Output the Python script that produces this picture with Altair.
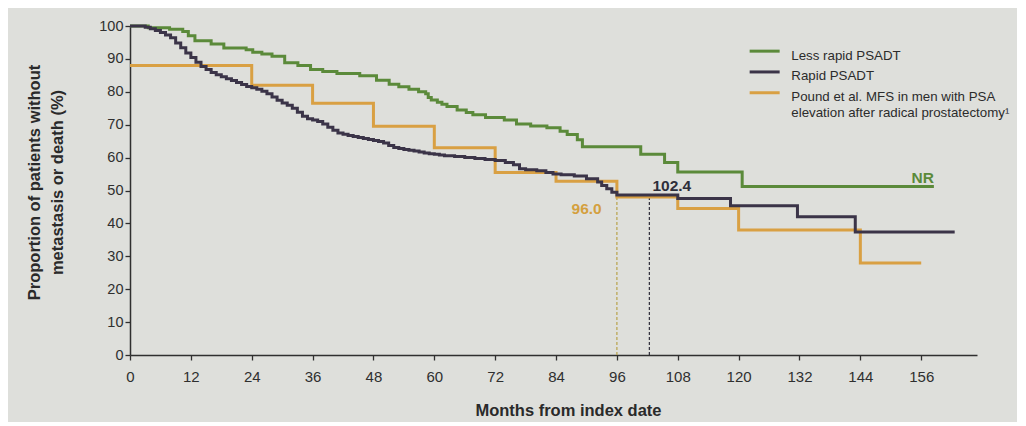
import altair as alt
import pandas as pd

# ---- data ----
series_names = ["Less rapid PSADT", "Rapid PSADT", "Pound"]
series_colors = ["#5b8a3a", "#3b3448", "#d9a043"]

green_t = [0, 3.6, 7.8, 10.4, 11.5, 12.8, 16, 18.5, 22.9, 24.2, 26, 28, 30.5, 33.1, 35.6,
           38, 40.8, 45.3, 48.6, 51.1, 53, 55, 56.9, 58.3, 58.8, 59.4, 60.6, 61.5, 62.5,
           64.5, 66.3, 67.6, 70.1, 73.8, 76.2, 79, 82.2, 84.8, 86.2, 88.2, 89.2, 100.7,
           105.4, 108, 120.7, 158.5]
green_s = [100, 99.5, 99, 98.3, 97, 95.5, 94.5, 93.3, 92.8, 92, 91.5, 90.8, 88.8, 88, 86.8,
           86.2, 85.6, 84.9, 83.5, 82.3, 81.5, 80.8, 80, 79.4, 78.3, 77.5, 76.8, 76.2, 75.5,
           74.5, 73.7, 73, 72.2, 71.4, 70.2, 69.6, 69.1, 68, 67, 65.4, 63.3, 61, 58.5,
           55.6, 51.2, 51.2]

rapid_t = [0, 2, 3, 4, 5, 6, 7, 8, 9, 10, 11, 12, 13, 14, 15, 16, 17, 18, 19, 20, 21, 22,
           23, 24, 25, 26, 27, 28, 29, 30, 31, 32, 33, 34, 35, 36, 37, 38, 39, 40, 41, 42,
           43, 44, 45, 46, 47, 48, 49, 50, 51, 52, 53, 54, 55, 56, 57, 58, 59, 60, 61, 62,
           64, 66, 68, 70, 72, 74, 75.6, 76.8, 78, 80.2, 82, 83.4, 85, 87.6, 90, 92.2, 93,
           94, 95, 96, 108, 118.4, 131.6, 143, 162.6]
rapid_s = [100, 100, 99.6, 99.2, 98.6, 98, 97.3, 96.4, 94.8, 93.4, 91.8, 90.4, 89, 87.7,
           86.8, 85.9, 85.2, 84.6, 84, 83.4, 82.8, 82.2, 81.6, 81.2, 80.8, 80.2, 79.4, 78.4,
           77.4, 76.6, 75.9, 75, 73.8, 72.6, 71.8, 71.4, 71, 70.2, 69.2, 68.3, 67.5, 67.1,
           66.7, 66.4, 66.1, 65.8, 65.5, 65.2, 64.9, 64.4, 63.7, 63.1, 62.8, 62.5, 62.2, 62,
           61.7, 61.4, 61.2, 61, 60.8, 60.6, 60.3, 60, 59.7, 59.4, 59.1, 58.5, 57.8, 56.6,
           56.3, 56, 55.5, 55, 54.8, 54.4, 53.6, 52.6, 51.5, 50.5, 49.5, 48.6, 47.6, 45.4,
           42.0, 37.4, 37.4]

pound_t = [0, 24, 36, 48, 60, 72, 84, 96, 108, 120, 144, 156]
pound_s = [88, 82, 76.5, 69.5, 63, 55.5, 52.8, 48, 44.5, 38, 28, 28]

x_ticks = [0, 12, 24, 36, 48, 60, 72, 84, 96, 108, 120, 132, 144, 156]
y_ticks = [0, 10, 20, 30, 40, 50, 60, 70, 80, 90, 100]

# median markers: (month, top of dashed line, colour)
median_months = [96.0, 102.4]
median_tops = [48.0, 48.6]
median_colors = ["#b8a24a", "#2e2e3a"]

# annotations: (text, month, pct, align, colour)
note_texts = ["96.0", "102.4", "NR"]
note_months = [93.0, 103.0, 158.5]
note_pcts = [42.9, 49.9, 52.2]
note_aligns = ["right", "left", "right"]
note_colors = ["#d4a03e", "#2e2e3a", "#5b8a3a"]

# ---- tables ----
rows = []
# draw Pound first, then green, then rapid on top
for name, ts, ss in [("Pound", pound_t, pound_s),
                     ("Less rapid PSADT", green_t, green_s),
                     ("Rapid PSADT", rapid_t, rapid_s)]:
    for t, s in zip(ts, ss):
        rows.append({"series": name, "month": t, "pct": s})
df = pd.DataFrame(rows)

FONT = "Liberation Sans"

x_scale = alt.Scale(domain=[0, 167], nice=False, zero=False)
y_scale = alt.Scale(domain=[0, 100], nice=False)

x_axis = alt.Axis(values=x_ticks, title="Months from index date", labelOverlap=False,
                  labelFontSize=15, labelPadding=9, titleX=438, titleY=60,
                  titleBaseline="alphabetic", labelFlush=False)
y_axis = alt.Axis(values=y_ticks, labelOverlap=False,
                  title=["Proportion of patients without", "metastasis or death (%)"],
                  labelFontSize=14.5, labelPadding=2, titlePadding=33, titleY=156,
                  titleLineHeight=23)

# wide, flat line symbol (custom path scaled by sqrt(size)/2) keeps rows compact
legend = alt.Legend(orient="none", legendX=628, legendY=16, title=None,
                    symbolType="M-3,0.5H3", symbolSize=100, symbolStrokeWidth=3,
                    labelFontSize=13.3, labelColor="#2b2b2b", labelLimit=400,
                    labelOffset=20, padding=0, rowPadding=0.8, labelBaseline="top",
                    labelExpr="datum.label == 'Pound' ? ['Pound et al. MFS in men with PSA', 'elevation after radical prostatectomy\u00b9'] : datum.label")

X = alt.X("month:Q", scale=x_scale, axis=x_axis)
Y = alt.Y("pct:Q", scale=y_scale, axis=y_axis)

lines = alt.Chart(df).mark_line(interpolate="step-after", strokeWidth=3).encode(
    x=X, y=Y,
    color=alt.Color("series:N", scale=alt.Scale(domain=series_names, range=series_colors),
                    legend=legend),
    detail="series:N",
)

layers = []
for m, top, c in zip(median_months, median_tops, median_colors):
    d = pd.DataFrame({"month": [m], "pct": [0], "hi": [top]})
    layers.append(
        alt.Chart(d).mark_rule(strokeDash=[3, 2], strokeWidth=1.2, color=c).encode(
            x=X, y=Y, y2="hi:Q",
        )
    )
layers.append(lines)
for t, m, p, a, c in zip(note_texts, note_months, note_pcts, note_aligns, note_colors):
    d = pd.DataFrame({"month": [m], "pct": [p], "txt": [t]})
    layers.append(
        alt.Chart(d).mark_text(align=a, baseline="alphabetic", fontSize=15.5,
                               fontWeight="bold", font=FONT, color=c).encode(
            x=X, y=Y, text="txt:N",
        )
    )

chart = alt.layer(*layers).properties(
    width=847, height=329,
    autosize=alt.AutoSizeParams(type="none"),
    padding={"left": 122, "top": 18, "right": 40, "bottom": 67},
    background="#dedfdb",
).configure_view(stroke=None).configure_axis(
    grid=False, domainColor="#2f2f2f", domainWidth=1.5, tickColor="#2f2f2f",
    tickWidth=1.3, tickSize=5, labelColor="#2f2f2f", labelFont=FONT,
    titleFont=FONT, titleFontSize=16.5, titleFontWeight="bold", titleColor="#2a2a2a",
).configure_legend(labelFont=FONT)

chart.save("out.html", embed_options={"renderer": "svg", "actions": False})
